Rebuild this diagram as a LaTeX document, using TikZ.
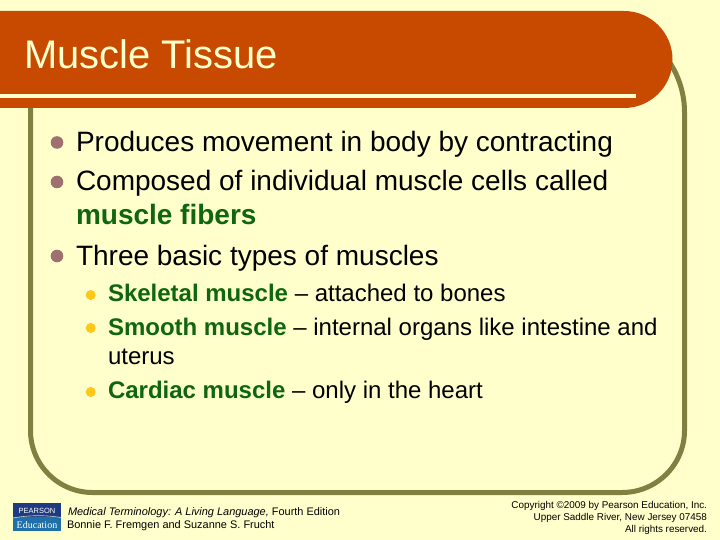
\documentclass[tikz,border=0pt]{standalone}
\usepackage{fontspec}
\setmainfont{Liberation Sans}
\newfontfamily\logoserif{Liberation Serif}
\definecolor{paper}{HTML}{FFFFCC}
\definecolor{rust}{HTML}{C84A00}
\definecolor{olive}{HTML}{808040}
\definecolor{leaf}{HTML}{0F660F}
\definecolor{mauve}{HTML}{9E7070}
\definecolor{amber}{HTML}{FFC61A}
\definecolor{navy}{HTML}{1F3A80}
\definecolor{sky}{HTML}{1F70A8}
\tikzset{
  x=1pt,y=-1pt,
  every node/.style={inner sep=0pt,outer sep=0pt,anchor=base west},
  titletext/.style={font=\fontsize{39.9}{44}\selectfont,text=paper},
  bodytext/.style={font=\fontsize{28}{32}\selectfont,text=black},
  subtext/.style={font=\fontsize{24}{28}\selectfont,text=black},
  foottext/.style={font=\fontsize{10.95}{12}\selectfont,text=black},
  copytext/.style={font=\fontsize{9.9}{12}\selectfont,text=black,anchor=base east},
  dotone/.style={fill=mauve,draw=none},
  dottwo/.style={fill=amber,draw=none}
}
\newcommand{\hl}[1]{\textcolor{leaf}{\textbf{#1}}}
\begin{document}
\begin{tikzpicture}
\useasboundingbox (0,0) rectangle (720,540);
\fill[paper] (0,0) rectangle (720,540);
% frame
\draw[olive,line width=5pt] (30.5,60) -- (30.5,430.5) arc[start angle=180,end angle=90,radius=62] -- (622,492.5)
  arc[start angle=90,end angle=0,x radius=62.5,y radius=62] -- (684.5,112) arc[start angle=0,end angle=-45,radius=90];
% title bar
\fill[rust] (0,11) -- (624,11) arc[start angle=-90,end angle=90,radius=48.5] -- (0,108) -- cycle;
\fill[paper] (0,94) rectangle (636,98);
\node[titletext] (title) at (24,69) {Muscle Tissue};
% bullets
\fill[dotone] (57,142.5) circle[radius=6.3];
\fill[dotone] (57,182) circle[radius=6.3];
\fill[dotone] (57,256) circle[radius=6.3];
\node[bodytext] (b1) at (76,152) {Produces movement in body by contracting};
\node[bodytext] (b2) at (76,191) {Composed of individual muscle cells called};
\node[bodytext] (b2b) at (76,225) {\hl{muscle fibers}};
\node[bodytext] (b3) at (76,265) {Three basic types of muscles};
\fill[dottwo] (90.7,295) circle[radius=5];
\fill[dottwo] (90.7,328) circle[radius=5];
\fill[dottwo] (90.7,392) circle[radius=5];
\node[subtext] (s1) at (108,301) {\hl{Skeletal muscle} – attached to bones};
\node[subtext] (s2) at (108,335) {\hl{Smooth muscle} – internal organs like intestine and};
\node[subtext] (s2b) at (108,364) {uterus};
\node[subtext] (s3) at (108,398) {\hl{Cardiac muscle} – only in the heart};
% logo
\fill[navy] (13,503) rectangle (61,517);
\fill[sky] (13,517) rectangle (61,531);
\draw[paper!70!sky,line width=0.6pt] (13,518) .. controls (30,515) and (45,515) .. (61,517.5);
\node[font=\fontsize{7.5}{9}\selectfont,text=white,anchor=base] (logoa) at (37,513) {PEARSON};
\node[font=\logoserif\fontsize{10}{11}\selectfont,text=white,anchor=base] (logob) at (37,528) {Education};
% footer
\node[foottext] (f1) at (68,515) {\textit{Medical Terminology: A Living Language,} Fourth Edition};
\node[foottext] (f2) at (67,528) {Bonnie F. Fremgen and Suzanne S. Frucht};
\node[copytext] (c1) at (707,508.5) {Copyright ©2009 by Pearson Education, Inc.};
\node[copytext] (c2) at (707,520.5) {Upper Saddle River, New Jersey 07458};
\node[copytext] (c3) at (707,532.5) {All rights reserved.};
\end{tikzpicture}
\end{document}
